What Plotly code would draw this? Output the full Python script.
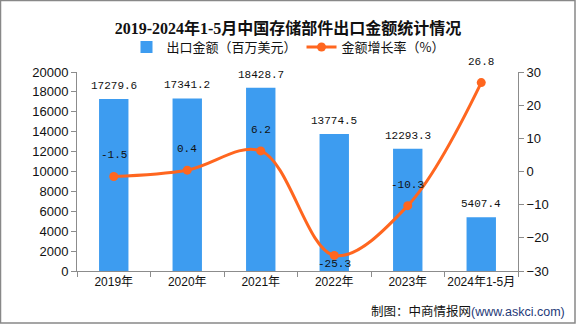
import plotly.graph_objects as go

categories = ["2019年", "2020年", "2021年", "2022年", "2023年", "2024年1-5月"]
export_values = [17279.6, 17341.2, 18428.7, 13774.5, 12293.3, 5407.4]
growth_rates = [-1.5, 0.4, 6.2, -25.3, -10.3, 26.8]
bar_labels = ["17279.6", "17341.2", "18428.7", "13774.5", "12293.3", "5407.4"]
rate_labels = ["-1.5", "0.4", "6.2", "-25.3", "-10.3", "26.8"]

W, H = 576, 324
L, R, T, B = 77, 58, 72, 53
PW, PH = W - L - R, H - T - B

BAR_COLOR = "#3D9CF0"
LINE_COLOR = "#FF661F"
AXIS_COLOR = "#8C8C8C"
CJK = "Noto Sans CJK SC"
MONO = "Liberation Mono, " + CJK
SANS = "Liberation Sans, " + CJK

fig = go.Figure()
fig.add_trace(go.Bar(
    x=categories, y=export_values, name="出口金额（百万美元）",
    marker=dict(color=BAR_COLOR, line=dict(width=0)), width=0.4,
    yaxis="y",
))
fig.add_trace(go.Scatter(
    x=categories, y=growth_rates, name="金额增长率（%）",
    mode="lines+markers", yaxis="y2",
    line=dict(color=LINE_COLOR, width=3, shape="spline", smoothing=1.0),
    marker=dict(color=LINE_COLOR, size=9),
))

annotations = []
for c, v, t in zip(categories, export_values, bar_labels):
    annotations.append(dict(x=c, y=v, xref="x", yref="y", text=t, showarrow=False,
                            yshift=13, font=dict(family=MONO, size=11, color="#111")))
for c, v, t in zip(categories, growth_rates, rate_labels):
    annotations.append(dict(x=c, y=v, xref="x", yref="y2", text=t, showarrow=False,
                            yshift=(-9 if v < -20 else 21),
                            font=dict(family=MONO, size=11, color="#111")))
annotations.append(dict(
    x=(567 - L) / PW, y=-(311 - T - PH) / PH, xref="paper", yref="paper",
    xanchor="right", yanchor="middle", showarrow=False,
    text="制图：中商情报网<span style='color:#1F3A78'>(www.askci.com)</span>",
    font=dict(family=SANS, size=12.5, color="#111"),
))

fig.update_layout(
    width=W, height=H,
    margin=dict(l=L, r=R, t=T, b=B, pad=0, autoexpand=False),
    paper_bgcolor="white", plot_bgcolor="white",
    title=dict(text="<b>2019-2024年1-5月中国存储部件出口金额统计情况</b>",
               x=0.5, xanchor="center", y=1 - 28 / H, yanchor="middle",
               yref="container",
               font=dict(family="Liberation Serif, " + CJK, size=16, color="#111")),
    legend=dict(orientation="h", x=0.5 - (L - R) / 2 / PW, xanchor="center",
                y=1 + 25 / PH, yanchor="middle",
                font=dict(family=CJK, size=13, color="#111"),
                itemwidth=30, tracegroupgap=0, bgcolor="rgba(0,0,0,0)"),
    showlegend=True,
    bargap=0.6,
    xaxis=dict(type="category", showline=True, linecolor=AXIS_COLOR, linewidth=1,
               ticks="outside", tickson="boundaries", ticklen=5, tickcolor=AXIS_COLOR,
               tickangle=0, automargin=False,
               showgrid=False, tickfont=dict(family=SANS, size=12, color="#111")),
    yaxis=dict(range=[0, 20000], dtick=2000, tickformat="d", showline=True,
               linecolor=AXIS_COLOR, automargin=False,
               ticks="outside", ticklen=5, tickcolor=AXIS_COLOR, showgrid=False,
               zeroline=False, tickfont=dict(family=SANS, size=13, color="#111")),
    yaxis2=dict(range=[-30, 30], dtick=10, overlaying="y", side="right",
                showline=True, linecolor=AXIS_COLOR, ticks="outside", ticklen=5,
                automargin=False,
                tickcolor=AXIS_COLOR, showgrid=False, zeroline=False,
                tickfont=dict(family=SANS, size=13, color="#111")),
    annotations=annotations,
    shapes=[dict(type="rect", xref="paper", yref="paper",
                 x0=(0.5 - L) / PW, x1=(575 - L) / PW,
                 y0=-(323 - T - PH) / PH, y1=1 + (T - 0.5) / PH,
                 line=dict(color="#888", width=1.5), layer="below")],
)

fig.write_html("out.html")
